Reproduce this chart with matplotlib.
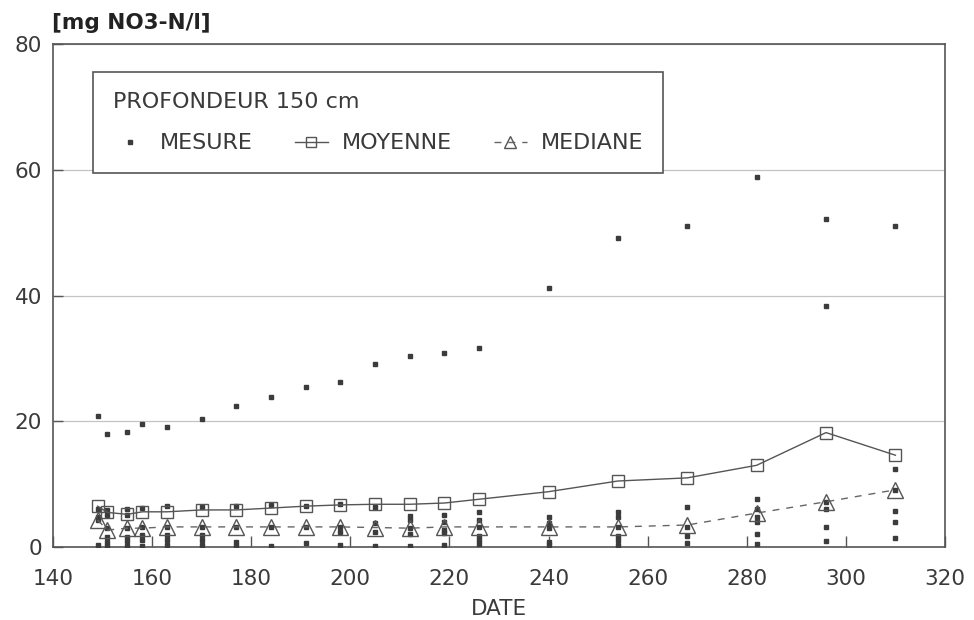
import matplotlib
matplotlib.use("Agg")
import matplotlib.pyplot as plt

# ---- data ----
dates = [149, 151, 155, 158, 163, 170, 177, 184, 191, 198,
         205, 212, 219, 226, 240, 254, 268, 282, 296, 310]

moyenne = [6.5, 5.5, 5.2, 5.6, 5.6, 5.9, 5.9, 6.2, 6.5, 6.7,
           6.8, 6.8, 7.0, 7.6, 8.8, 10.5, 11.0, 13.0, 18.2, 14.6]

mediane = [4.3, 2.7, 3.0, 3.0, 3.2, 3.2, 3.2, 3.2, 3.2, 3.2,
           3.1, 3.0, 3.2, 3.2, 3.2, 3.2, 3.5, 5.4, 7.2, 9.1]

mesures = [
    [20.8, 6.1, 4.8, 4.3, 0.3],
    [18.0, 5.9, 5.1, 3.0, 1.6, 0.8, 0.1],
    [18.3, 6.0, 5.1, 3.0, 1.6, 1.0, 0.2],
    [19.6, 6.2, 3.2, 1.9, 1.1, 0.2],
    [19.1, 6.5, 3.2, 1.9, 1.1, 0.3],
    [20.4, 6.4, 3.2, 1.9, 1.1, 0.3],
    [22.4, 6.5, 3.2, 0.8, 0.2],
    [23.9, 6.7, 3.2, 0.2],
    [25.4, 6.5, 3.2, 0.6],
    [26.3, 6.8, 3.2, 2.4, 0.3],
    [29.1, 6.3, 3.8, 2.4, 0.1],
    [30.4, 4.9, 4.3, 3.0, 2.1, 0.2],
    [30.8, 5.1, 4.0, 2.7, 2.2, 0.3],
    [31.6, 5.5, 4.3, 3.2, 1.7, 1.1, 0.5],
    [41.2, 4.7, 3.9, 3.0, 0.8, 0.3],
    [49.2, 5.6, 4.8, 3.2, 1.7, 1.1, 0.3],
    [51.0, 6.4, 3.2, 1.7, 0.6],
    [58.8, 7.7, 6.1, 4.8, 4.0, 2.1, 0.5],
    [52.2, 38.4, 7.2, 6.1, 3.2, 1.0],
    [51.0, 12.4, 9.1, 5.7, 4.0, 1.5],
]

x_ticks = [140, 160, 180, 200, 220, 240, 260, 280, 300, 320]
y_ticks = [0, 20, 40, 60, 80]

title_legend = "PROFONDEUR 150 cm"
unit_label = "[mg NO3-N/l]"
x_label = "DATE"

# ---- style ----
plt.rcParams['font.family'] = ['DejaVu Sans']
txt_col = "#3a3a3a"
line_col = "#555555"

fig = plt.figure(figsize=(9.74, 6.2), dpi=100)
ax = fig.add_axes([0.0544, 0.1177, 0.9158, 0.8113])

mx = [d for d, vals in zip(dates, mesures) for _ in vals]
my = [v for vals in mesures for v in vals]

h_mes, = ax.plot(mx, my, linestyle='none', marker='s', markersize=3.4,
                 color="#3c3c3c", label="MESURE", zorder=3)
h_moy, = ax.plot(dates, moyenne, linestyle='-', color=line_col, lw=1.0,
                 marker='s', markersize=9, markerfacecolor='none',
                 markeredgecolor=line_col, markeredgewidth=1.0,
                 label="MOYENNE", zorder=4)
h_med, = ax.plot(dates, mediane, linestyle=(0, (5, 5)), color="#666666", lw=1.0,
                 marker='^', markersize=11, markerfacecolor='none',
                 markeredgecolor="#555555", markeredgewidth=1.0,
                 label="MEDIANE", zorder=4)

ax.set_xlim(140, 320)
ax.set_ylim(0, 80)
ax.set_xticks(x_ticks)
ax.set_yticks(y_ticks)
ax.set_xticklabels([str(t) for t in x_ticks])
ax.set_yticklabels([str(t) for t in y_ticks])

ax.grid(axis='y', color="#c4c4c4", lw=0.9)
ax.set_axisbelow(True)

for s in ax.spines.values():
    s.set_color(line_col)
    s.set_linewidth(1.2)

ax.tick_params(axis='x', direction='in', length=8, width=1, color=line_col,
               labelsize=15.5, labelcolor=txt_col, pad=16)
ax.tick_params(axis='y', direction='in', length=7, width=1, color=line_col,
               labelsize=15.5, labelcolor=txt_col, pad=8)

ax.set_xlabel(x_label, fontsize=15.5, color=txt_col, labelpad=7)

fig.text(52 / 974, 1 - 23 / 620, unit_label, fontsize=15.5, fontweight='bold',
         color="#222222", ha='left', va='center')

leg = ax.legend(handles=[h_mes, h_moy, h_med], ncol=3, title=title_legend,
                loc='upper left', bbox_to_anchor=(0.0448, 0.944),
                fontsize=16, title_fontsize=16, alignment='left',
                frameon=True, fancybox=False, edgecolor=line_col,
                framealpha=1, borderpad=0.9, labelspacing=0.95,
                handlelength=1.5, handletextpad=0.6, columnspacing=1.9,
                handleheight=0.7, markerscale=0.85, borderaxespad=0)
leg.get_frame().set_linewidth(1.2)
leg.get_title().set_color(txt_col)
for t in leg.get_texts():
    t.set_color(txt_col)
leg.set_zorder(10)

fig.savefig("out.png", dpi=100)
